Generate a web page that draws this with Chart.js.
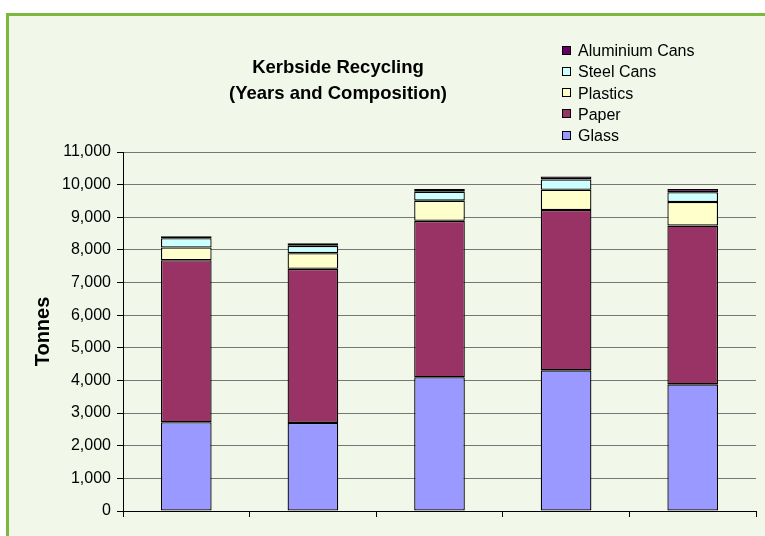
<!DOCTYPE html>
<html>
<head>
<meta charset="utf-8">
<script src="https://cdn.jsdelivr.net/npm/chart.js@4"></script>
<style>
    html, body { margin: 0; padding: 0; background: #ffffff; overflow: hidden; }
    #frame {
        position: absolute; left: 6px; top: 13px; width: 800px; height: 600px;
        border: 3px solid #7cb83e; background: #f1f7e9;
    }
    #myChart { position: absolute; left: 0; top: 0; }
</style>
</head>
<body>
<div id="frame"></div>
<canvas id="myChart" width="765" height="536"></canvas>
<script>
// values (tonnes)
var years = ['Year 1', 'Year 2', 'Year 3', 'Year 4', 'Year 5'];
var glass = [2720, 2700, 4100, 4310, 3880];
var paper = [4965, 4720, 4790, 4915, 4865];
var plastics = [388, 480, 620, 620, 725];
var steel_cans = [285, 225, 275, 315, 295];
var aluminium_cans = [61, 80, 85, 90, 100];
var y_ticks = [0, 1000, 2000, 3000, 4000, 5000, 6000, 7000, 8000, 9000, 10000, 11000];
var title_lines = ['Kerbside Recycling', '(Years and Composition)'];

var font_family = '"Liberation Sans", Arial, sans-serif';

// title + legend drawn into the canvas at the spots they sit in the original
const titleLegend = {
    id: 'titleLegend',
    afterDraw(chart) {
        const c = chart.ctx;
        c.save();
        c.fillStyle = '#000';
        c.font = 'bold 18.5px ' + font_family;
        c.textAlign = 'center';
        c.textBaseline = 'alphabetic';
        c.fillText(title_lines[0], 338, 73);
        c.fillText(title_lines[1], 338, 99);

        c.font = '16px ' + font_family;
        c.textAlign = 'left';
        c.textBaseline = 'middle';
        var sets = chart.data.datasets.slice().reverse();
        sets.forEach(function(ds, i) {
            var y = 50.5 + i * 21.3;
            c.fillStyle = ds.backgroundColor;
            c.fillRect(562.5, Math.round(y) - 4.5, 8, 8);
            c.strokeStyle = '#000';
            c.lineWidth = 1;
            c.strokeRect(562.5, Math.round(y) - 4.5, 8, 8);
            c.fillStyle = '#000';
            c.fillText(ds.label, 578, y + 1);
        });
        c.restore();
    }
};

function draw_chart() {
    const ctx = document.getElementById('myChart');
    function ds(label, data, color) {
        return {
            label: label,
            data: data,
            backgroundColor: color,
            borderColor: '#000',
            borderWidth: 1.3,
            borderSkipped: false,
            categoryPercentage: 1.0,
            barPercentage: 0.4
        };
    }
    new Chart(ctx, {
        type: 'bar',
        data: {
            labels: years,
            datasets: [
                ds('Glass', glass, '#9999ff'),
                ds('Paper', paper, '#993366'),
                ds('Plastics', plastics, '#ffffcc'),
                ds('Steel Cans', steel_cans, '#ccffff'),
                ds('Aluminium Cans', aluminium_cans, '#660066')
            ]
        },
        plugins: [titleLegend],
        options: {
            responsive: false,
            animation: false,
            devicePixelRatio: 1,
            locale: 'en-US',
            layout: {
                padding: { left: 0, right: 9, top: 152, bottom: 0 }
            },
            plugins: {
                legend: { display: false },
                title: { display: false },
                tooltip: { enabled: false }
            },
            scales: {
                x: {
                    stacked: true,
                    afterFit: function(s) { s.height = 25; },
                    grid: {
                        offset: true,
                        drawOnChartArea: false,
                        tickLength: 6,
                        tickColor: '#000'
                    },
                    border: { color: '#000', width: 1 },
                    ticks: { display: false }
                },
                y: {
                    stacked: true,
                    min: 0,
                    max: 11000,
                    afterFit: function(s) { s.width = 123; },
                    afterBuildTicks: function(s) {
                        s.ticks = y_ticks.map(function(v) { return { value: v }; });
                    },
                    title: {
                        display: true,
                        text: 'Tonnes',
                        color: '#000',
                        font: { family: font_family, size: 20, weight: 'bold' },
                        padding: { top: 31, bottom: 0 }
                    },
                    grid: {
                        color: '#767676',
                        tickColor: '#000',
                        tickLength: 6
                    },
                    border: { color: '#000', width: 1 },
                    ticks: {
                        color: '#000',
                        padding: 6,
                        font: { family: font_family, size: 16 },
                        callback: function(value) {
                            return Intl.NumberFormat('en-US').format(value);
                        }
                    }
                }
            }
        }
    });
}
draw_chart();
</script>
</body>
</html>
